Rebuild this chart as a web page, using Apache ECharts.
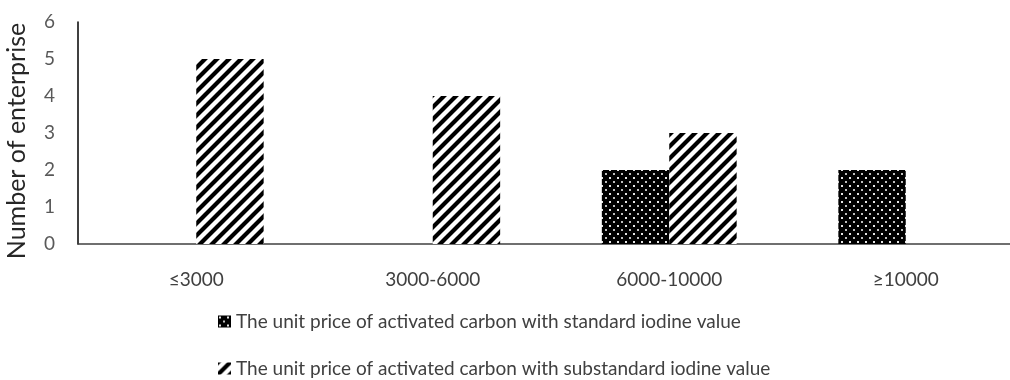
<!DOCTYPE html>
<html>
<head>
<meta charset="utf-8">
<script src="https://cdn.jsdelivr.net/npm/echarts@6/dist/echarts.min.js"></script>
<style>
  html, body { margin: 0; padding: 0; background: #fff; }
  #chart { width: 1010px; height: 380px; }
</style>
</head>
<body>
<div id="chart"></div>
<script>
// Price bands (unit price of activated carbon)
const categories = ['≤3000', '3000-6000', '6000-10000', '≥10000'];
// Number of enterprises per price band
const standardValues = [0, 0, 2, 2];
const substandardValues = [5, 4, 3, 0];
const seriesNames = [
  'The unit price of activated carbon with standard iodine value',
  'The unit price of activated carbon with substandard iodine value'
];
const yTicks = [0, 1, 2, 3, 4, 5, 6];

// Black fill with a staggered grid of small white dots
function dotPattern() {
  const c = document.createElement('canvas');
  c.width = 8; c.height = 8;
  const g = c.getContext('2d');
  g.fillStyle = '#000';
  g.fillRect(0, 0, 8, 8);
  g.fillStyle = 'rgba(255,255,255,0.9)';
  g.fillRect(1, 1, 2, 2);
  g.fillStyle = 'rgba(255,255,255,0.75)';
  g.fillRect(5, 5, 2, 2);
  return c;
}

// White fill with thick black diagonal stripes (/)
function hatchPattern() {
  const s = 12;
  const c = document.createElement('canvas');
  c.width = s; c.height = s;
  const g = c.getContext('2d');
  g.fillStyle = '#fff';
  g.fillRect(0, 0, s, s);
  g.strokeStyle = '#000';
  g.lineWidth = 4.2;
  g.lineCap = 'square';
  g.beginPath();
  g.moveTo(-2, s + 2); g.lineTo(s + 2, -2);
  g.moveTo(-s / 2 - 2, s / 2 + 2); g.lineTo(s / 2 + 2, -s / 2 - 2);
  g.moveTo(s / 2 - 2, s * 1.5 + 2); g.lineTo(s * 1.5 + 2, s / 2 - 2);
  g.stroke();
  return c;
}

const dotFill = { image: dotPattern(), repeat: 'repeat' };
const hatchFill = { image: hatchPattern(), repeat: 'repeat' };

const fontFamily = 'Lato, "Open Sans", sans-serif';

function legendRow(name, top) {
  return {
    show: true,
    orient: 'horizontal',
    left: 218,
    top: top,
    padding: 0,
    itemWidth: 13,
    itemHeight: 12,
    itemGap: 0,
    icon: 'rect',
    textStyle: { fontSize: 19, color: '#404040', fontFamily: fontFamily },
    data: [name]
  };
}

const chart = echarts.init(document.getElementById('chart'), null, { renderer: 'canvas' });
chart.setOption({
  animation: false,
  backgroundColor: '#fff',
  textStyle: { fontFamily: fontFamily },
  grid: {
    left: 78, top: 22, width: 946, height: 222,
    containLabel: false,
    outerBoundsMode: 'none'
  },
  legend: [
    legendRow(seriesNames[0], 312),
    legendRow(seriesNames[1], 359)
  ],
  xAxis: {
    type: 'category',
    data: categories,
    axisLine: { lineStyle: { color: '#404040', width: 1.5 } },
    axisTick: { show: false },
    axisLabel: { fontSize: 19, color: '#404040', margin: 26, fontFamily: fontFamily }
  },
  yAxis: {
    type: 'value',
    min: 0,
    max: 6,
    interval: 1,
    name: 'Number of enterprise',
    nameLocation: 'middle',
    nameGap: 49,
    nameTextStyle: {
      fontSize: 25,
      color: '#262626',
      fontFamily: fontFamily,
      padding: [0, 16, 0, 0]
    },
    axisLine: { show: true, lineStyle: { color: '#000', width: 1.5 } },
    axisTick: { show: false },
    splitLine: { show: false },
    axisLabel: {
      fontSize: 19,
      color: '#595959',
      margin: 23,
      fontFamily: fontFamily,
      formatter: v => (yTicks.indexOf(v) >= 0 ? String(v) : '')
    }
  },
  series: [
    {
      name: seriesNames[0],
      type: 'bar',
      data: standardValues,
      barGap: '0%',
      barCategoryGap: '43%',
      itemStyle: { color: dotFill }
    },
    {
      name: seriesNames[1],
      type: 'bar',
      data: substandardValues,
      barGap: '0%',
      barCategoryGap: '43%',
      itemStyle: { color: hatchFill }
    }
  ]
});
</script>
</body>
</html>
